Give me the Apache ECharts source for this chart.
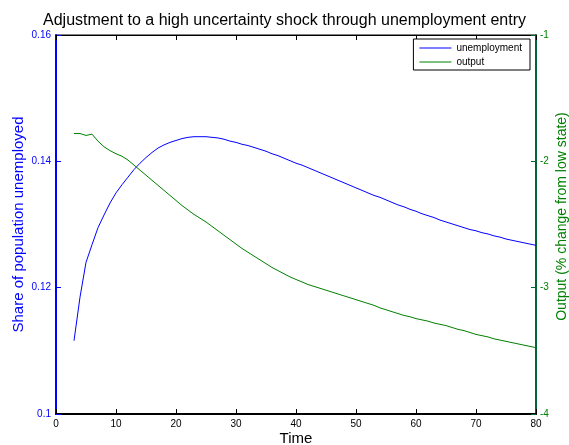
<!DOCTYPE html>
<html><head><meta charset="utf-8">
<script src="https://cdn.jsdelivr.net/npm/echarts@6/dist/echarts.min.js"></script>
<style>html,body{margin:0;padding:0;background:#fff}#c{width:569px;height:445px}</style>
</head><body><div id="c"></div>
<script>
const time = [3,4,5,6,7,8,9,10,11,12,13,14,15,16,17,18,19,20,21,22,23,24,25,26,27,28,29,30,31,32,33,34,35,36,37,38,39,40,41,42,43,44,45,46,47,48,49,50,51,52,53,54,55,56,57,58,59,60,61,62,63,64,65,66,67,68,69,70,71,72,73,74,75,76,77,78,79,80];
const unemployment = [0.1116,0.1185,0.1240,0.1268,0.1295,0.1315,0.1334,0.1350,0.1363,0.1375,0.1387,0.1397,0.1406,0.1414,0.1421,0.1426,0.1430,0.1433,0.1436,0.1438,0.1439,0.1439,0.1439,0.1438,0.1437,0.1435,0.1432,0.1430,0.1427,0.1425,0.1422,0.1419,0.1416,0.1412,0.1409,0.1405,0.1401,0.1397,0.1394,0.1390,0.1386,0.1382,0.1378,0.1374,0.1370,0.1366,0.1362,0.1358,0.1354,0.1350,0.1346,0.1343,0.1339,0.1335,0.1331,0.1328,0.1324,0.1321,0.1317,0.1314,0.1311,0.1307,0.1304,0.1301,0.1298,0.1295,0.1292,0.1290,0.1287,0.1285,0.1282,0.1280,0.1277,0.1275,0.1273,0.1271,0.1269,0.1267];
const output = [-1.78,-1.78,-1.795,-1.785,-1.84,-1.885,-1.915,-1.94,-1.96,-1.99,-2.03,-2.07,-2.11,-2.15,-2.19,-2.23,-2.27,-2.31,-2.35,-2.385,-2.42,-2.45,-2.48,-2.515,-2.55,-2.585,-2.62,-2.655,-2.69,-2.72,-2.75,-2.78,-2.81,-2.84,-2.865,-2.89,-2.915,-2.935,-2.955,-2.975,-2.99,-3.005,-3.02,-3.035,-3.05,-3.065,-3.08,-3.095,-3.11,-3.125,-3.14,-3.16,-3.175,-3.19,-3.205,-3.22,-3.23,-3.245,-3.255,-3.265,-3.28,-3.29,-3.30,-3.315,-3.33,-3.34,-3.355,-3.37,-3.38,-3.39,-3.405,-3.415,-3.425,-3.435,-3.445,-3.455,-3.465,-3.475];
const xTicks = [0,10,20,30,40,50,60,70,80];
const leftTicks = [0.1,0.12,0.14,0.16];
const rightTicks = [-4,-3,-2,-1];

const FONT = 'Liberation Sans, Arial, sans-serif';
const chart = echarts.init(document.getElementById('c'), null, {renderer:'canvas'});
chart.setOption({
  animation:false,
  backgroundColor:'#fff',
  textStyle:{fontFamily:FONT},
  title:{text:'Adjustment to a high uncertainty shock through unemployment entry',left:'center',top:8,
    textStyle:{fontSize:16,fontWeight:'normal',color:'#000',fontFamily:FONT}},
  legend:{orient:'vertical',right:39,top:39,borderColor:'#000',borderWidth:1,padding:[4,8,3,6],itemGap:4,
    icon:'rect',itemWidth:32,itemHeight:1,backgroundColor:'#fff',
    textStyle:{fontSize:10,color:'#000',fontFamily:FONT},
    data:['unemployment','output']},
  grid:{left:56,right:33,top:35,bottom:31,show:true,borderColor:'#000',borderWidth:1,outerBoundsMode:'none',containLabel:false},
  xAxis:[{type:'value',min:0,max:80,interval:10,position:'bottom',
    name:'Time',nameLocation:'middle',nameGap:17,nameMoveOverlap:false,nameTextStyle:{fontSize:15,color:'#000',fontFamily:FONT},
    axisLine:{show:true,onZero:false,lineStyle:{color:'#000',width:2}},
    axisTick:{inside:true,length:5,lineStyle:{color:'#000'}},
    axisLabel:{fontSize:10,color:'#000',margin:5,fontFamily:FONT},
    splitLine:{show:false}},
   {type:'value',min:0,max:80,interval:10,position:'top',
    axisLine:{show:true,onZero:false,lineStyle:{color:'#000',width:1}},
    axisTick:{inside:true,length:5,lineStyle:{color:'#000'}},
    axisLabel:{show:false},splitLine:{show:false}}],
  yAxis:[{type:'value',min:0.1,max:0.16,interval:0.02,position:'left',
    name:'Share of population unemployed',nameLocation:'middle',nameGap:30,nameMoveOverlap:false,
    nameTextStyle:{fontSize:15,color:'#0000ff',fontFamily:FONT},
    axisLine:{show:true,onZero:false,lineStyle:{color:'#0000ff',width:2}},
    axisTick:{inside:true,length:5,lineStyle:{color:'#0000ff'}},
    axisLabel:{fontSize:10,color:'#0000ff',margin:5,fontFamily:FONT,formatter:v=>String(+v.toFixed(2))},
    splitLine:{show:false}},
   {type:'value',min:-4,max:-1,interval:1,position:'right',
    name:'Output (% change from low state)',nameLocation:'middle',nameGap:19,nameRotate:90,nameMoveOverlap:false,
    nameTextStyle:{fontSize:14,color:'#008000',fontFamily:FONT,padding:[0,0,0,16]},
    axisLine:{show:true,onZero:false,lineStyle:{color:'#006633',width:2}},
    axisTick:{inside:true,length:5,lineStyle:{color:'#006633'}},
    axisLabel:{fontSize:10,color:'#008000',margin:4,fontFamily:FONT},
    splitLine:{show:false}}],
  series:[
    {name:'unemployment',type:'line',xAxisIndex:0,yAxisIndex:0,symbol:'none',smooth:false,
     lineStyle:{color:'#0000ff',width:1},itemStyle:{color:'#0000ff'},
     data:time.map((t,i)=>[t,unemployment[i]])},
    {name:'output',type:'line',xAxisIndex:0,yAxisIndex:1,symbol:'none',smooth:false,
     lineStyle:{color:'#008000',width:1},itemStyle:{color:'#008000'},
     data:time.map((t,i)=>[t,output[i]])}
  ]
});
</script></body></html>
